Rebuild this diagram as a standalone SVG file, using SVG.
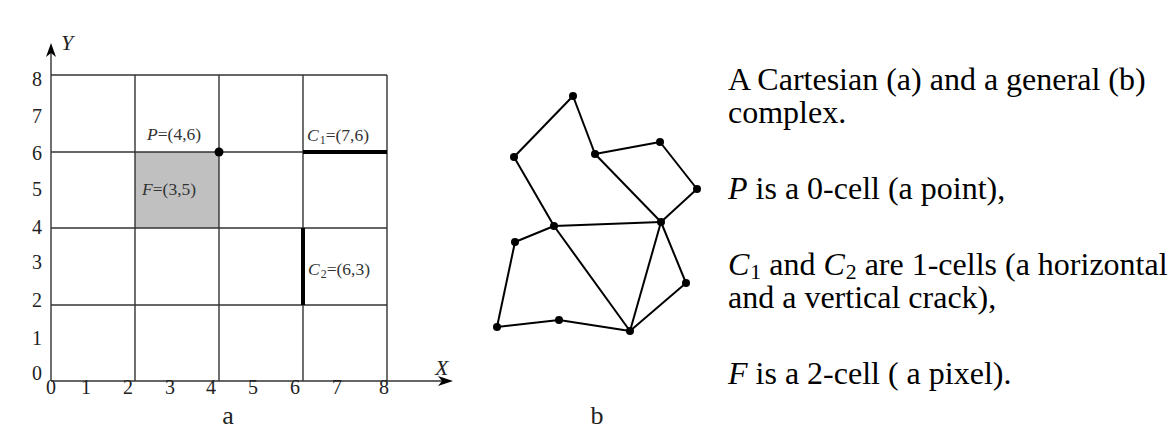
<svg xmlns="http://www.w3.org/2000/svg" width="1170" height="430" viewBox="0 0 1170 430">
<style>
.grid{stroke:#333;stroke-width:1.4;fill:none}
.crack{stroke:#000;stroke-width:4;fill:none}
.tick{font-family:"Liberation Serif",serif;font-size:20px;fill:#222;text-anchor:middle}
.lbl{font-family:"Liberation Serif",serif;font-size:17.5px;fill:#333}
.axl{font-family:"Liberation Serif",serif;font-size:22px;fill:#222;font-style:italic}
.it{font-style:italic}
.sub{font-size:0.68em}
.cap{font-family:"Liberation Serif",serif;font-size:26px;fill:#222;text-anchor:middle}
.desc{font-family:"Liberation Serif",serif;font-size:32px;fill:#000}
.edge{stroke:#000;stroke-width:2;fill:none}
.dot{fill:#000}
</style>
<rect width="1170" height="430" fill="#fff"/>
<g id="panel-a">
<rect id="pixel-F" x="135" y="152" width="84" height="76" fill="#c0c0c0"/>
<g id="grid" class="grid">
<line x1="51" y1="75" x2="387" y2="75"/>
<line x1="51" y1="152" x2="387" y2="152"/>
<line x1="51" y1="228" x2="387" y2="228"/>
<line x1="51" y1="305" x2="387" y2="305"/>
<line x1="51" y1="381" x2="444" y2="381"/>
<line x1="51" y1="381" x2="51" y2="52"/>
<line x1="135" y1="75" x2="135" y2="381"/>
<line x1="219" y1="75" x2="219" y2="381"/>
<line x1="303" y1="75" x2="303" y2="381"/>
<line x1="387" y1="75" x2="387" y2="381"/>
</g>
<path id="arrow-y" d="M51,43 L46,57 L51,53 L56,57 Z" fill="#000"/>
<path id="arrow-x" d="M453,381 L438,376 L442,381 L438,386 Z" fill="#000"/>
<text class="axl" x="61" y="50">Y</text>
<text class="axl" x="435" y="375">X</text>
<g id="y-ticks" class="tick">
<text x="37" y="86">8</text><text x="37" y="123">7</text><text x="37" y="160">6</text>
<text x="37" y="196">5</text><text x="37" y="234">4</text><text x="37" y="269">3</text>
<text x="37" y="307">2</text><text x="37" y="345">1</text><text x="37" y="380">0</text>
</g>
<g id="x-ticks" class="tick">
<text x="51" y="394">0</text><text x="86" y="394">1</text><text x="128" y="394">2</text>
<text x="170" y="394">3</text><text x="211" y="394">4</text><text x="253" y="394">5</text>
<text x="295" y="394">6</text><text x="337" y="394">7</text><text x="384" y="394">8</text>
</g>
<g id="node-P">
<circle class="dot" cx="219" cy="152" r="4.5"/>
<text class="lbl" x="147" y="140"><tspan class="it">P</tspan>=(4,6)</text>
</g>
<g id="node-F">
<text class="lbl" x="142" y="195"><tspan class="it">F</tspan>=(3,5)</text>
</g>
<g id="node-C1">
<line class="crack" x1="303" y1="152" x2="387" y2="152"/>
<text class="lbl" x="307" y="141"><tspan class="it">C</tspan><tspan class="sub" dx="1" baseline-shift="-3">1</tspan>=(7,6)</text>
</g>
<g id="node-C2">
<line class="crack" x1="303" y1="228" x2="303" y2="305"/>
<text class="lbl" x="308" y="275"><tspan class="it">C</tspan><tspan class="sub" dx="1" baseline-shift="-3">2</tspan>=(6,3)</text>
</g>
<text class="cap" x="228" y="424">a</text>
</g>
<g id="panel-b">
<g id="connectors">
<line class="edge" x1="573" y1="96" x2="514" y2="157"/>
<line class="edge" x1="573" y1="96" x2="595" y2="154"/>
<line class="edge" x1="595" y1="154" x2="660" y2="142"/>
<line class="edge" x1="660" y1="142" x2="697" y2="189"/>
<line class="edge" x1="697" y1="189" x2="661" y2="222"/>
<line class="edge" x1="595" y1="154" x2="661" y2="222"/>
<line class="edge" x1="514" y1="157" x2="554" y2="226"/>
<line class="edge" x1="554" y1="226" x2="661" y2="222"/>
<line class="edge" x1="554" y1="226" x2="515" y2="242"/>
<line class="edge" x1="515" y1="242" x2="497" y2="327"/>
<line class="edge" x1="497" y1="327" x2="559" y2="320"/>
<line class="edge" x1="559" y1="320" x2="630" y2="331"/>
<line class="edge" x1="554" y1="226" x2="630" y2="331"/>
<line class="edge" x1="661" y1="222" x2="630" y2="331"/>
<line class="edge" x1="661" y1="222" x2="686" y2="283"/>
<line class="edge" x1="686" y1="283" x2="630" y2="331"/>
</g>
<g id="vertices" class="dot">
<circle id="v1" cx="573" cy="96" r="4"/>
<circle id="v2" cx="514" cy="157" r="4"/>
<circle id="v3" cx="595" cy="154" r="4"/>
<circle id="v4" cx="660" cy="142" r="4"/>
<circle id="v5" cx="697" cy="189" r="4"/>
<circle id="v6" cx="661" cy="222" r="4"/>
<circle id="v7" cx="554" cy="226" r="4"/>
<circle id="v8" cx="515" cy="242" r="4"/>
<circle id="v9" cx="497" cy="327" r="4"/>
<circle id="v10" cx="559" cy="320" r="4"/>
<circle id="v11" cx="630" cy="331" r="4"/>
<circle id="v12" cx="686" cy="283" r="4"/>
</g>
<text class="cap" x="597" y="424">b</text>
</g>
<g id="description" class="desc">
<text x="728" y="90">A Cartesian (a) and a general (b)</text>
<text x="728" y="123">complex.</text>
<text x="728" y="199"><tspan class="it">P</tspan> is a 0-cell (a point),</text>
<text x="728" y="275"><tspan class="it">C</tspan><tspan class="sub" dx="1" baseline-shift="-4">1</tspan> and <tspan class="it">C</tspan><tspan class="sub" dx="1" baseline-shift="-4">2</tspan> are 1-cells (a horizontal</text>
<text x="728" y="308">and a vertical crack),</text>
<text x="728" y="384"><tspan class="it">F</tspan> is a 2-cell ( a pixel).</text>
</g>
</svg>
